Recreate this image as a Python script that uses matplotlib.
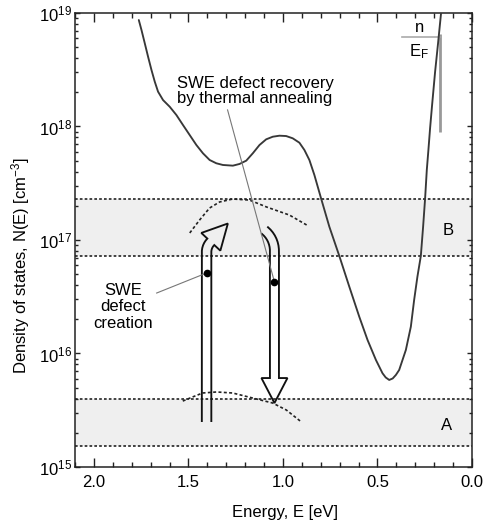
import numpy as np
import matplotlib
matplotlib.use("Agg")
import matplotlib.pyplot as plt
from matplotlib.ticker import FixedLocator, LogLocator, FuncFormatter, MultipleLocator, NullFormatter

plt.rcParams['font.family'] = ['Liberation Sans', 'DejaVu Sans']
plt.rcParams['mathtext.fontset'] = 'custom'
plt.rcParams['mathtext.rm'] = 'Liberation Sans'
plt.rcParams['mathtext.it'] = 'Liberation Sans:italic'
plt.rcParams['mathtext.bf'] = 'Liberation Sans:bold'

# Density of states N(E) versus energy (log10 of cm^-3)
energy = [1.7625, 1.7483, 1.7309, 1.7135, 1.6955, 1.6781, 1.6607, 1.6343, 1.5989, 1.5636,
          1.5288, 1.4934, 1.4580, 1.4232, 1.3879, 1.3525, 1.3177, 1.2649, 1.2296, 1.1942,
          1.1594, 1.1240, 1.0887, 1.0538, 1.0185, 0.9831, 0.9483, 0.9129, 0.8865, 0.8602,
          0.8338, 0.7984, 0.7546, 0.7018, 0.6491, 0.5963, 0.5525, 0.5082, 0.4734, 0.4565,
          0.4380, 0.4195, 0.4026, 0.3852, 0.3499, 0.3235, 0.3061, 0.2887, 0.2707, 0.2586,
          0.2480, 0.2391, 0.2306, 0.2216, 0.2111, 0.1953, 0.1794, 0.1636]
log_dos = [18.938, 18.850, 18.733, 18.615, 18.498, 18.395, 18.307, 18.233, 18.174, 18.101,
           18.013, 17.925, 17.837, 17.764, 17.705, 17.676, 17.661, 17.655, 17.670, 17.699,
           17.764, 17.837, 17.887, 17.910, 17.919, 17.916, 17.896, 17.857, 17.793, 17.705,
           17.573, 17.367, 17.117, 16.859, 16.589, 16.324, 16.119, 15.943, 15.826, 15.789,
           15.767, 15.780, 15.811, 15.855, 16.031, 16.236, 16.471, 16.677, 16.859, 17.117,
           17.367, 17.617, 17.793, 17.987, 18.189, 18.480, 18.736, 19.000]

# Defect bands (lower, upper density bounds)
band_b = (7.2e16, 2.30e17)
band_a = (1.53e15, 3.97e15)

# Dashed distribution arcs
arc_upper_e = [1.493, 1.441, 1.388, 1.335, 1.266, 1.177, 1.087, 0.966, 0.865]
arc_upper_log = [17.062, 17.176, 17.282, 17.335, 17.361, 17.352, 17.291, 17.220, 17.123]
arc_lower_e = [1.530, 1.478, 1.425, 1.351, 1.266, 1.161, 1.055, 0.982, 0.902]
arc_lower_log = [15.581, 15.617, 15.652, 15.661, 15.652, 15.608, 15.564, 15.502, 15.396]

# Transition arrows: (E, N) of tail and tip
creation_tail = (1.404, 2.54e15)
creation_tip = (1.288, 1.38e17)
recovery_tail = (1.095, 1.21e17)
recovery_tip = (1.045, 3.66e15)
dots_e = [1.404, 1.045]
dots_n = [5.12e16, 4.27e16]

# Label anchors and leader-line starts
creation_text = (1.847, 2.57e16)
creation_leader = (1.668, 3.41e16)
recovery_text = (1.562, 2.06e18)
recovery_leader = (1.293, 1.40e18)

# Fermi level marker
ef_energy = 0.169
ef_range = (8.95e17, 6.53e18)
ef_arrow_from = 0.369
ef_arrow_level = 6.15e18

x_ticks = [2.0, 1.5, 1.0, 0.5, 0.0]
x_tick_labels = ['2.0', '1.5', '1.0', '0.5', '0.0']
y_ticks = [1e15, 1e16, 1e17, 1e18, 1e19]

fig = plt.figure(figsize=(4.87, 5.24), dpi=100)
ax = fig.add_axes([75 / 487, 57 / 524, 397 / 487, 454 / 524])
ax.set_yscale('log')
ax.set_xlim(2.1, 0.0)
ax.set_ylim(1e15, 1e19)

# shaded bands with dotted borders
dot_style = dict(color='#222222', lw=1.2, ls=(0, (1.6, 1.3)))
for lo, hi in (band_b, band_a):
    ax.axhspan(lo, hi, color='#efefef', zorder=0, lw=0)
    ax.axhline(lo, **dot_style, zorder=1)
    ax.axhline(hi, **dot_style, zorder=1)

# DOS curve
ax.plot(energy, 10 ** np.array(log_dos), color='#383838', lw=1.35, zorder=3,
        solid_capstyle='round', solid_joinstyle='round')

# dashed arcs
arc_style = dict(color='#222222', lw=1.2, ls=(0, (1.8, 1.4)), zorder=2)
ax.plot(arc_upper_e, 10 ** np.array(arc_upper_log), **arc_style)
ax.plot(arc_lower_e, 10 ** np.array(arc_lower_log), **arc_style)


# hollow bent arrows, built in display space along a centre line
def hollow_arrow(center, tail_w, head_w, head_len, **kw):
    c = np.asarray(center, float)
    t = np.gradient(c, axis=0)
    t /= np.linalg.norm(t, axis=1)[:, None]
    n = np.column_stack([-t[:, 1], t[:, 0]])
    left = c + n * tail_w / 2
    right = c - n * tail_w / 2
    base, d, nb = c[-1], t[-1], n[-1]
    tip = base + d * head_len
    outline = np.vstack([left, base + nb * head_w / 2, tip,
                         base - nb * head_w / 2, right[::-1]])
    data = ax.transData.inverted().transform(outline)
    ax.plot(data[:, 0], data[:, 1], **kw)


TAIL_W, HEAD_W, HEAD_LEN = 9.5, 26.0, 25.0
arrow_kw = dict(color='#111111', lw=1.35, zorder=4, solid_joinstyle='miter')

# creation arrow: straight up, then a short bend towards the upper right
A = ax.transData.transform(creation_tail)
T = ax.transData.transform(creation_tip)
phi = np.radians(45)
Hc = T - HEAD_LEN * np.array([np.cos(phi), np.sin(phi)])
tau = np.pi / 2 - phi
R = (Hc[0] - A[0]) / (1 - np.cos(tau))
y0 = Hc[1] - R * np.sin(tau)
straight = np.column_stack([np.full(60, A[0]), np.linspace(A[1], y0, 60)])
alpha = np.linspace(np.pi, np.pi - tau, 12)[1:]
arc = np.column_stack([A[0] + R + R * np.cos(alpha), y0 + R * np.sin(alpha)])
hollow_arrow(np.vstack([straight, arc]), TAIL_W, HEAD_W, HEAD_LEN, **arrow_kw)

# recovery arrow: bends in from the upper left, then straight down
S = ax.transData.transform(recovery_tail)
T = ax.transData.transform(recovery_tip)
psi = np.radians(-40)
R = (T[0] - S[0]) / (1 + np.cos(psi - np.pi / 2))
C = S + R * np.array([np.cos(psi - np.pi / 2), np.sin(psi - np.pi / 2)])
beta = np.linspace(psi + np.pi / 2, 0, 16)
arc = np.column_stack([C[0] + R * np.cos(beta), C[1] + R * np.sin(beta)])
straight = np.column_stack([np.full(60, T[0]),
                            np.linspace(C[1], T[1] + HEAD_LEN, 60)])[1:]
hollow_arrow(np.vstack([arc, straight]), 9.0, HEAD_W, HEAD_LEN, **arrow_kw)

ax.plot(dots_e, dots_n, 'o', color='black', ms=4.5, zorder=6)

# annotations with thin leader lines
leader = dict(color='#777777', lw=0.8, zorder=5)
ax.plot([creation_leader[0], dots_e[0]], [creation_leader[1], dots_n[0]], **leader)
ax.plot([recovery_leader[0], dots_e[1]], [recovery_leader[1], dots_n[1]], **leader)
ax.text(*creation_text, 'SWE\ndefect\ncreation', ha='center', va='center',
        fontsize=12, linespacing=1.15, zorder=5)
ax.text(*recovery_text, 'SWE defect recovery\nby thermal annealing', ha='left',
        va='center', fontsize=12, linespacing=1.05, zorder=5)

# Fermi level marker
ax.plot([ef_energy, ef_energy], ef_range, color='#999999', lw=2.0, zorder=2,
        solid_capstyle='butt')
ax.plot([ef_arrow_from, ef_energy], [ef_arrow_level, ef_arrow_level],
        color='#aaaaaa', lw=1.2, zorder=2)
ax.text(0.280, 10 ** 18.868, 'n', ha='center', va='center', fontsize=12)
ax.text(0.280, 10 ** 18.656, r'E$_\mathrm{F}$', ha='center', va='center', fontsize=12)

ax.text(0.127, 1.22e17, 'B', ha='center', va='center', fontsize=12)
ax.text(0.137, 2.34e15, 'A', ha='center', va='center', fontsize=12)

# axes, ticks and labels
ax.xaxis.set_major_locator(FixedLocator(x_ticks))
ax.set_xticklabels(x_tick_labels)
ax.xaxis.set_minor_locator(MultipleLocator(0.1))
ax.yaxis.set_major_locator(FixedLocator(y_ticks))
ax.yaxis.set_minor_locator(LogLocator(base=10, subs=np.arange(2, 10), numticks=20))
ax.yaxis.set_minor_formatter(NullFormatter())
ax.yaxis.set_major_formatter(FuncFormatter(
    lambda v, p: r'$\mathrm{10^{%d}}$' % round(np.log10(v))))

ax.tick_params(which='both', direction='in', top=True, right=True,
               labelsize=12, color='#222222')
ax.tick_params(axis='x', which='major', length=6.5, width=1.0, pad=6)
ax.tick_params(axis='x', which='minor', length=3.5, width=1.0)
ax.tick_params(axis='y', which='major', length=3.8, width=1.0, pad=2)
ax.tick_params(axis='y', which='minor', length=2.0, width=1.0)
for s in ax.spines.values():
    s.set_linewidth(1.1)
    s.set_color('#222222')

ax.set_xlabel('Energy, E [eV]', fontsize=12)
ax.xaxis.set_label_coords(0.529, -0.084)
ax.set_ylabel(r'Density of states, N(E) [cm$^\mathrm{-3}$]', fontsize=12)
ax.yaxis.set_label_coords(-0.108, 0.443)

fig.savefig('out.png', dpi=100)
